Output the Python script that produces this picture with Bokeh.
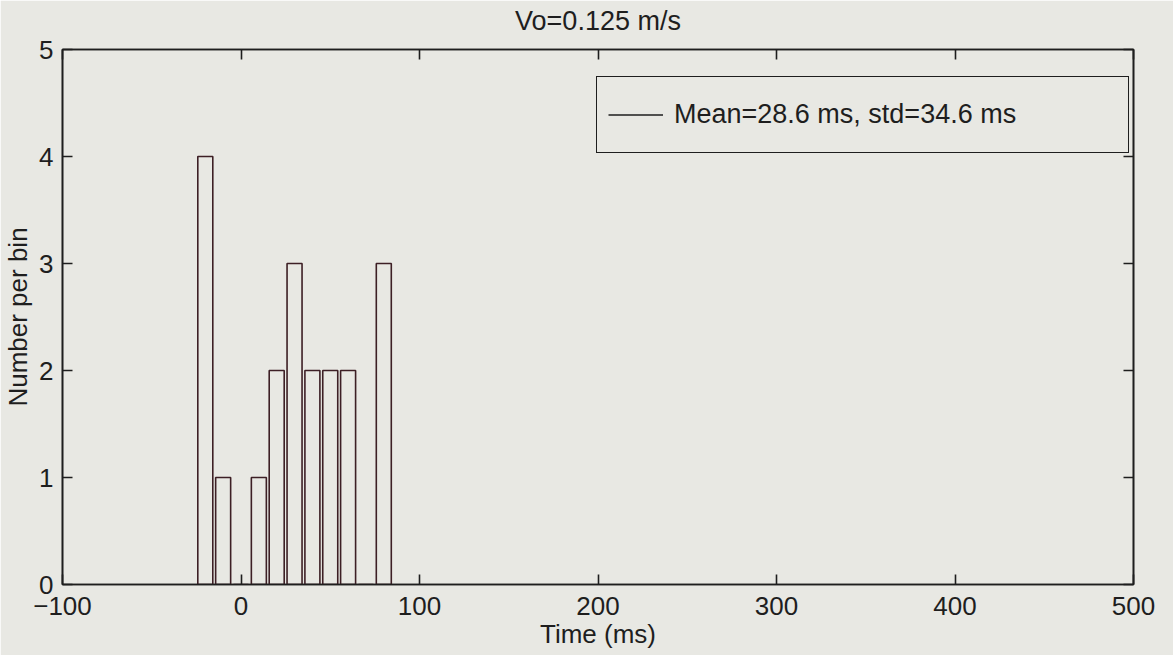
from bokeh.plotting import figure
from bokeh.models import (Range1d, LinearAxis, FixedTicker, Legend, LegendItem,
                          ColumnDataSource, CustomJSTickFormatter)
from bokeh.embed import file_html
from bokeh.resources import INLINE

# Histogram of arrival-time offsets (10 ms bins)
bin_centers = [-20, -10, 0, 10, 20, 30, 40, 50, 60, 70, 80]
counts = [4, 1, 0, 1, 2, 3, 2, 2, 2, 0, 3]

x_ticks = [-100, 0, 100, 200, 300, 400, 500]
y_ticks = [0, 1, 2, 3, 4, 5]

title_text = "Vo=0.125 m/s"
x_label = "Time (ms)"
y_label = "Number per bin"
legend_text = "Mean=28.6 ms, std=34.6 ms"

FONT = "Liberation Sans"
BG = "#e8e8e3"
INK = "#1e1e1e"
BAR_INK = "#3d1f25"

p = figure(width=1173, height=655, output_backend="svg", toolbar_location=None,
           x_range=Range1d(-100, 500), y_range=Range1d(0, 5),
           min_border_left=62, min_border_right=40,
           min_border_top=49, min_border_bottom=71)
p.background_fill_color = BG
p.border_fill_color = BG
p.outline_line_color = INK
p.outline_line_width = 1.6
p.grid.visible = False

src = ColumnDataSource(dict(x=bin_centers, top=counts))
p.vbar(x="x", top="top", width=8.4, bottom=0, source=src,
       fill_color=None, line_color=BAR_INK, line_width=1.6)


def style_axis(ax, labels=True):
    ax.major_tick_in = 10
    ax.major_tick_out = 0
    ax.minor_tick_line_color = None
    ax.axis_line_color = INK
    ax.axis_line_width = 1.6
    ax.major_tick_line_color = INK
    ax.major_tick_line_width = 1.6
    ax.major_label_text_font = FONT
    ax.major_label_text_color = INK
    ax.axis_label_text_font = FONT
    ax.axis_label_text_font_style = "normal"
    ax.axis_label_text_color = INK
    ax.axis_label_text_font_size = "26px"
    if labels:
        ax.major_label_text_font_size = "26px"
    else:
        # tick marks only on the opposite edges
        ax.formatter = CustomJSTickFormatter(code="return ''")
        ax.major_label_text_font_size = "0px"
        ax.major_label_standoff = 0


xa = p.xaxis[0]
xa.ticker = FixedTicker(ticks=x_ticks)
xa.major_label_overrides = {-100: "\u2212100"}
style_axis(xa)
xa.major_label_standoff = 12
xa.axis_label = x_label
xa.axis_label_standoff = 1

ya = p.yaxis[0]
ya.ticker = FixedTicker(ticks=y_ticks)
style_axis(ya)
ya.major_label_standoff = 9
ya.axis_label = y_label
ya.axis_label_standoff = 3

# top edge: inward ticks only, with the chart title above it
top_ax = LinearAxis(ticker=FixedTicker(ticks=x_ticks))
style_axis(top_ax, labels=False)
top_ax.axis_label = title_text
top_ax.axis_label_text_font_size = "27px"
top_ax.axis_label_standoff = 14
p.add_layout(top_ax, "above")

right_ax = LinearAxis(ticker=FixedTicker(ticks=y_ticks))
style_axis(right_ax, labels=False)
p.add_layout(right_ax, "right")

# legend key drawn as a plain line sample (no points of its own)
nan = float("nan")
key = p.line(x=[nan, nan], y=[nan, nan], line_color=INK, line_width=1.6)
legend = Legend(items=[LegendItem(label=legend_text, renderers=[key])],
                location=(534, 431), margin=0, padding=11, spacing=0,
                glyph_width=55, glyph_height=53, label_height=53,
                label_width=443, label_standoff=11,
                label_text_font=FONT, label_text_font_size="27px",
                label_text_color=INK,
                background_fill_color=BG, background_fill_alpha=1.0,
                border_line_color=INK, border_line_width=1.6,
                border_line_alpha=1.0)
p.add_layout(legend)

open("out.html", "w").write(file_html(p, INLINE))
